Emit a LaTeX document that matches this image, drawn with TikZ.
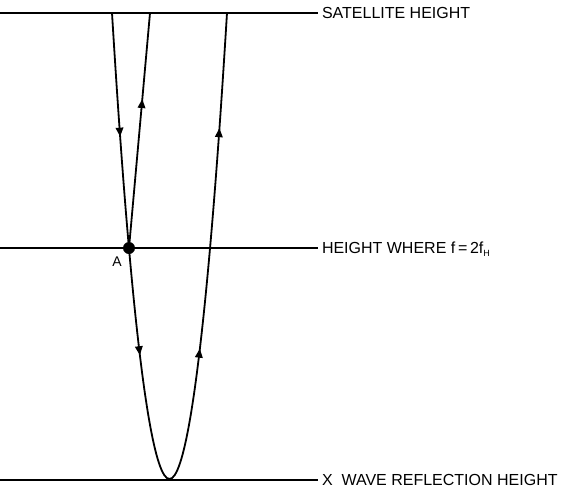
\documentclass[tikz,border=0pt]{standalone}
\usepackage{fontspec}
\setmainfont{Liberation Sans}
\usetikzlibrary{arrows.meta,decorations.markings}

\begin{document}
\begin{tikzpicture}[x=1pt,y=-1pt,
  every node/.style={font=\fontsize{16}{16}\selectfont},
  >={Triangle[length=9pt,width=7.5pt]},
  level/.style={line width=1.9pt},
  ray/.style={line width=1.8pt},
  lbl/.style={anchor=west,inner sep=0pt,outer xsep=4pt,
              text height=11.5pt,text depth=0pt},
  dot/.style={circle,fill,inner sep=0pt,minimum size=12pt}
]
\useasboundingbox (0,0) rectangle (566,496);

\coordinate (S0) at (0,13);
\coordinate (M0) at (0,248);
\coordinate (R0) at (0,480);
\node[lbl] (sat) at (318,13)  {SATELLITE HEIGHT};
\node[lbl] (mid) at (318,248) {HEIGHT WHERE f\,=\,2f\raisebox{-3pt}{\fontsize{9}{9}\selectfont H}};
\node[lbl] (ref) at (318,480) {X\ \ WAVE REFLECTION HEIGHT};

\draw[level] (S0) -- (sat.west);
\draw[level] (M0) -- (mid.west);
\draw[level] (R0) -- (ref.west);

\coordinate (T1) at (112,13);
\coordinate (T2) at (150,13);
\coordinate (T3) at (227,13);
\coordinate (V)  at (169.5,479);
\node[dot] (A) at (129,248) {};
\node[font=\fontsize{14}{14}\selectfont] (Alab) at (117,262) {A};

\draw[ray,postaction={decorate},decoration={markings,
    mark=at position 0.131 with {\arrow{>}},
    mark=at position 0.363 with {\arrow{>}},
    mark=at position 0.644 with {\arrow{>}},
    mark=at position 0.878 with {\arrow{>}}}]
  (T1) parabola bend (V) (T3);
\draw[ray,postaction={decorate},decoration={markings,
    mark=at position 0.634 with {\arrow{>}}}]
  (A.center) -- (T2);
\end{tikzpicture}
\end{document}
